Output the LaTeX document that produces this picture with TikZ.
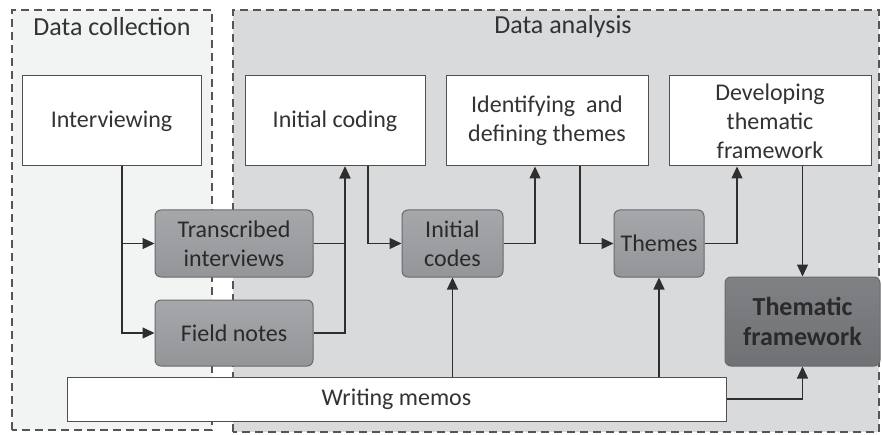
\documentclass[tikz,border=0pt]{standalone}
\usepackage{fontspec}
\setmainfont{Carlito}
\usetikzlibrary{arrows.meta}
\definecolor{lightbg}{HTML}{F2F3F3}
\definecolor{darkbg}{HTML}{D9DADC}
\definecolor{framegray}{HTML}{555555}
\definecolor{boxline}{HTML}{505050}
\definecolor{grayline}{HTML}{6A6A6C}
\definecolor{graytop}{HTML}{A6A7AA}
\definecolor{graybot}{HTML}{949598}
\definecolor{darktop}{HTML}{808184}
\definecolor{darkbot}{HTML}{707174}
\definecolor{textgray}{HTML}{333333}
\definecolor{textdark}{HTML}{2A2A2A}
\definecolor{linegray}{HTML}{2E2E2E}
\begin{document}
\begin{tikzpicture}[x=1pt,y=1pt,
    frame/.style={draw=framegray, line width=1.4pt, dash pattern=on 8pt off 5pt},
    whitebox/.style={draw=boxline, fill=white, line width=1pt, align=center, text=textgray, inner sep=2pt},
    graybox/.style={draw=grayline, top color=graytop, bottom color=graybot, rounded corners=6pt,
                    line width=1pt, align=center, text=textdark, inner sep=2pt},
    arr/.style={-{Triangle[length=12pt,width=11pt]}, line width=1.2pt, draw=linegray},
    font=\fontsize{24}{29}\selectfont]
    \useasboundingbox (0,0) rectangle (882,434);
    \fill[white] (0,0) rectangle (882,434);

    % the two phases
    \draw[frame, fill=lightbg] (12,4) rectangle (212,424);
    \draw[frame, fill=darkbg]  (233,2) rectangle (879,424);
    \node[text=textgray, font=\fontsize{26}{30}\selectfont] (dctitle) at (112,407) {Data collection};
    \node[text=textgray, font=\fontsize{26}{30}\selectfont] (datitle) at (563,407) {Data analysis};

    % steps
    \node[whitebox, minimum width=179pt, minimum height=90pt] (interv)   at (111.5,313) {Interviewing};
    \node[whitebox, minimum width=180pt, minimum height=90pt] (icoding)  at (335,313)   {Initial coding};
    \node[whitebox, minimum width=202pt, minimum height=90pt] (ident)    at (547,313)   {Identifying~ and\\defining themes};
    \node[whitebox, minimum width=202pt, minimum height=90pt] (develop)  at (770,313)   {Developing\\thematic\\framework};
    \node[whitebox, minimum width=659pt, minimum height=44pt] (memos)    at (396.5,35)  {Writing memos};

    % outputs
    \node[graybox, minimum width=158pt, minimum height=67pt] (transcr) at (234,190.5) {Transcribed\\interviews};
    \node[graybox, minimum width=158pt, minimum height=66pt] (fnotes)  at (234,101)   {Field notes};
    \node[graybox, minimum width=101pt, minimum height=67pt] (icodes)  at (452.5,190.5) {Initial\\codes};
    \node[graybox, minimum width=90pt,  minimum height=67pt] (themes)  at (659,190.5) {Themes};
    \node[graybox, top color=darktop, bottom color=darkbot, minimum width=155pt, minimum height=89pt,
          font=\fontsize{26}{30}\selectfont\bfseries] (tframe) at (802.5,112.5) {Thematic\\framework};

    \draw[arr] ([xshift=10.5pt]interv.south) |- (transcr.west);
    \draw[arr] ([xshift=10.5pt]interv.south) |- (fnotes.west);
    \draw[arr] (transcr.east) -| ([xshift=10pt]icoding.south);
    \draw[arr] (fnotes.east)  -| ([xshift=10pt]icoding.south);
    \draw[arr] ([xshift=33pt]icoding.south) |- (icodes.west);
    \draw[arr] (icodes.east) -| ([xshift=-12pt]ident.south);
    \draw[arr] ([xshift=33pt]ident.south) |- (themes.west);
    \draw[arr] (themes.east) -| ([xshift=-33pt]develop.south);
    \draw[arr] (develop.south -| tframe.north) -- (tframe.north);
    \draw[arr] (memos.north -| icodes.south) -- (icodes.south);
    \draw[arr] (memos.north -| themes.south) -- (themes.south);
    \draw[arr] (memos.east) -| (tframe.south);
  \end{tikzpicture}
\end{document}
